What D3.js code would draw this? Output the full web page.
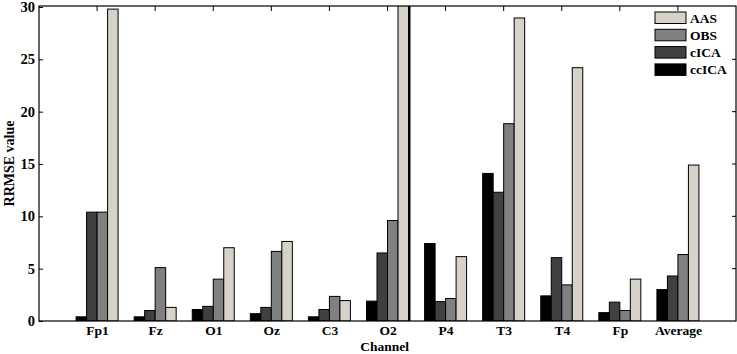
<!DOCTYPE html>
<html><head><meta charset="utf-8">
<script src="https://cdn.jsdelivr.net/npm/d3@7"></script>
<style>body{margin:0;background:#fff}svg{display:block}text{font-family:"Liberation Serif","Times New Roman",serif;font-weight:bold;fill:#000}</style>
</head><body>
<svg id="c" width="737" height="354"></svg>
<script>
const channels = ["Fp1","Fz","O1","Oz","C3","O2","P4","T3","T4","Fp","Average"];
const series = ["ccICA","cICA","OBS","AAS"];
const ccICA = [0.4,0.4,1.1,0.7,0.4,1.9,7.4,14.1,2.4,0.8,3.0];
const cICA  = [10.4,1.0,1.4,1.3,1.1,6.5,1.85,12.3,6.05,1.8,4.3];
const OBS   = [10.4,5.1,4.0,6.65,2.35,9.6,2.15,18.85,3.45,1.0,6.35];
const AAS   = [29.8,1.3,7.0,7.6,1.95,31,6.15,28.95,24.2,4.0,14.9];
const yTicks = [0,5,10,15,20,25,30];
const colors = {ccICA:"#000000", cICA:"#404040", OBS:"#808080", AAS:"#d6d2ca"};
const values = {ccICA, cICA, OBS, AAS};
const legendOrder = ["AAS","OBS","cICA","ccICA"];

const svg = d3.select("#c");
const L=39, R=736, T=6, B=321;
const x = d3.scaleLinear().domain([0, channels.length+1]).range([L,R]);
const y = d3.scaleLinear().domain([0,30]).range([B,T+1]);
const bw = 10.5;

svg.append("clipPath").attr("id","pc").append("rect")
  .attr("x",L).attr("y",T).attr("width",R-L).attr("height",B-T);

const g = svg.append("g").attr("clip-path","url(#pc)");
series.forEach((s,si)=>{
  g.selectAll(null).data(values[s]).enter().append("rect")
    .attr("x",(d,i)=>x(i+1)-2*bw+si*bw)
    .attr("y",d=>y(d))
    .attr("width",bw)
    .attr("height",d=>B-y(d))
    .attr("fill",colors[s])
    .attr("stroke","#000").attr("stroke-width",1);
});
// heavy edge of clipped O2 AAS bar
const o2 = channels.indexOf("O2");
g.append("line").attr("x1",x(o2+1)+2*bw+1).attr("x2",x(o2+1)+2*bw+1)
  .attr("y1",T).attr("y2",B).attr("stroke","#000").attr("stroke-width",2);

// frame
svg.append("rect").attr("x",L).attr("y",T).attr("width",R-L).attr("height",B-T)
  .attr("fill","none").attr("stroke","#000").attr("stroke-width",1.2);

// left axis
const ya = svg.append("g").attr("transform",`translate(${L},0)`)
  .call(d3.axisLeft(y).tickValues(yTicks).tickSize(-4).tickPadding(4));
ya.select(".domain").remove();
ya.selectAll("text").style("font-size","14.5px").style("font-family","Liberation Serif").style("font-weight","bold");
// right inward ticks
svg.append("g").selectAll("line").data(yTicks.slice(1,-1)).enter().append("line")
  .attr("x1",R).attr("x2",R-4).attr("y1",d=>y(d)).attr("y2",d=>y(d)).attr("stroke","#000");
// top inward ticks
svg.append("g").selectAll("line").data(channels).enter().append("line")
  .attr("x1",(d,i)=>x(i+1)).attr("x2",(d,i)=>x(i+1)).attr("y1",T).attr("y2",T+5).attr("stroke","#000");
// bottom axis labels
const xa = svg.append("g").attr("transform",`translate(0,${B})`)
  .call(d3.axisBottom(x).tickValues(d3.range(1,channels.length+1)).tickFormat(i=>channels[i-1]).tickSize(0).tickPadding(4));
xa.select(".domain").remove();
xa.selectAll("text").style("font-size","13.5px").style("font-family","Liberation Serif").style("font-weight","bold");

svg.append("text").attr("x",x(6.5)-32).attr("y",351).attr("text-anchor","middle")
  .style("font-size","13.5px").text("Channel");
svg.append("text").attr("transform",`translate(14,${(T+B)/2}) rotate(-90)`).attr("text-anchor","middle")
  .style("font-size","14px").text("RRMSE value");

// legend
const lg = svg.append("g").attr("transform","translate(655,12)");
legendOrder.forEach((s,i)=>{
  lg.append("rect").attr("x",0).attr("y",i*17.3).attr("width",31).attr("height",11.5)
    .attr("fill",colors[s]).attr("stroke","#000").attr("stroke-width",1);
  lg.append("text").attr("x",35).attr("y",i*17.3+10.5).style("font-size","13.5px").text(s);
});
</script>
</body></html>
